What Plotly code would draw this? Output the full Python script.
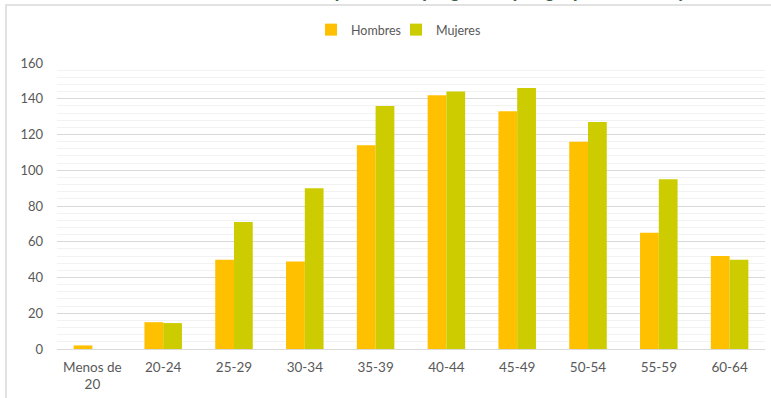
import plotly.graph_objects as go

# Age groups and counts per sex
categorias = ["Menos de<br>20", "20-24", "25-29", "30-34", "35-39",
              "40-44", "45-49", "50-54", "55-59", "60-64"]
hombres = [2, 15, 50, 49, 114, 142, 133, 116, 65, 52]
mujeres = [0, 14.5, 71, 90, 136, 144, 146, 127, 95, 50]

W, H = 771, 398
L, R, T, B = 57, 6, 63, 49
plot_w = W - L - R
plot_h = H - T - B

def px_x(p):
    return (p - L) / plot_w

def px_y(p):
    return 1 + (T - p) / plot_h

font_fam = "Lato, 'Open Sans', sans-serif"
gris = "#595959"

fig = go.Figure()
fig.add_trace(go.Bar(name="Hombres", x=categorias, y=hombres,
                     marker=dict(color="#FFC000", line=dict(width=0))))
fig.add_trace(go.Bar(name="Mujeres", x=categorias, y=mujeres,
                     marker=dict(color="#CCCC00", line=dict(width=0))))

fig.update_layout(
    width=W, height=H,
    margin=dict(l=L, r=R, t=T, b=B),
    paper_bgcolor="white", plot_bgcolor="white",
    barmode="group", bargap=0.47, bargroupgap=0,
    font=dict(family=font_fam, size=13, color=gris),
    showlegend=True,
    legend=dict(orientation="h", x=px_x(396), xanchor="center",
                y=px_y(30), yanchor="middle",
                font=dict(family=font_fam, size=12.5, color=gris),
                itemwidth=30, entrywidth=40, entrywidthmode="pixels",
                traceorder="normal"),
    xaxis=dict(showgrid=False, showline=False, ticks="",
               ticklabelstandoff=8,
               tickfont=dict(family=font_fam, size=13.5, color=gris)),
    yaxis=dict(range=[0, 160], dtick=20, showgrid=True, gridcolor="#d9d9d9",
               gridwidth=1, zeroline=True, zerolinecolor="#d9d9d9",
               zerolinewidth=1, showline=False, ticks="",
               ticklabelstandoff=13,
               tickfont=dict(family=font_fam, size=13, color=gris),
               minor=dict(dtick=4, showgrid=True, gridcolor="#f2f2f2",
                          gridwidth=1)),
    shapes=[dict(type="rect", xref="paper", yref="paper",
                 x0=px_x(6), x1=px_x(W + 20), y0=px_y(H + 20), y1=px_y(5),
                 line=dict(color="#d9d9d9", width=1.5),
                 fillcolor="rgba(0,0,0,0)", layer="below")],
    annotations=[dict(
        text="<b><i>Contrataciones incentivadas en las partes del programa, "
             "por grupos de edad y sexo</i></b>",
        xref="paper", yref="paper", x=px_x(385), y=px_y(3),
        xanchor="center", yanchor="bottom", showarrow=False,
        font=dict(family=font_fam, size=20, color="#3a6147"))],
)

fig.write_html("out.html")
